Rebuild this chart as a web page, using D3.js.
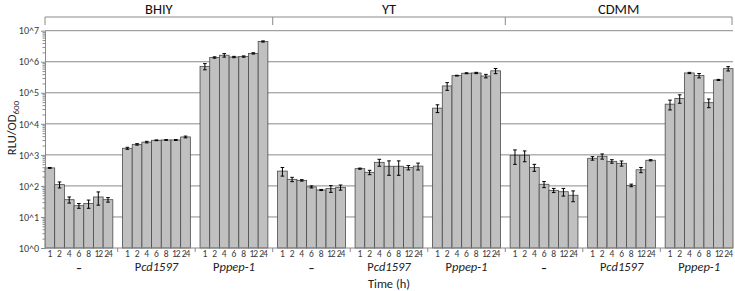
<!DOCTYPE html>
<html>
<head>
<meta charset="utf-8">
<script src="https://cdn.jsdelivr.net/npm/d3@7"></script>
<style>
  body { margin: 0; background: #fff; }
  svg { display: block; font-family: Carlito, Lato, "Open Sans", sans-serif; }
</style>
</head>
<body>
<div class="canvas"></div>
<script>
const media = ["BHIY", "YT", "CDMM"];
const constructs = ["none", "Pcd1597", "Pppep-1"];
const times = ["1", "2", "4", "6", "8", "12", "24"];
const yTickLabels = ["10^0", "10^1", "10^2", "10^3", "10^4", "10^5", "10^6", "10^7"];

// mean RLU/OD600, one row per construct (none, Pcd1597, Pppep-1)
const bhiyMeans = [
  [380, 110, 36, 23, 27, 44, 36],
  [1630, 2180, 2580, 2950, 3020, 3020, 3780],
  [710000, 1370000, 1620000, 1420000, 1470000, 1860000, 4500000],
];
const bhiySd = [
  [12, 24, 8, 4, 8, 20, 6],
  [120, 120, 150, 80, 80, 100, 250],
  [160000, 70000, 210000, 70000, 70000, 90000, 200000],
];
const ytMeans = [
  [300, 163, 151, 93, 74, 82, 90],
  [360, 274, 575, 430, 430, 390, 435],
  [32000, 166000, 357000, 426000, 435000, 347000, 510000],
];
const ytSd = [
  [93, 26, 8, 7, 3, 20, 17],
  [15, 44, 144, 210, 210, 62, 109],
  [9000, 46000, 10000, 15000, 20000, 45000, 97000],
];
const cdmmMeans = [
  [970, 970, 395, 113, 72, 65, 50],
  [775, 900, 620, 535, 104, 330, 670],
  [43000, 66000, 435000, 360000, 48000, 260000, 600000],
];
const cdmmSd = [
  [475, 370, 100, 25, 11, 18, 19],
  [100, 170, 80, 100, 10, 63, 30],
  [15000, 20000, 20000, 58000, 15000, 10000, 96000],
];

const allMeans = [bhiyMeans, ytMeans, cdmmMeans];
const allSd = [bhiySd, ytSd, cdmmSd];

const width = 735;
const height = 291;
const plotLeft = 45, plotRight = 733, plotTop = 30.7, plotBottom = 248;

const groups = [];
media.forEach((m, mi) => {
  constructs.forEach((c, ci) => {
    groups.push({ key: m + "|" + c, medium: m, construct: c, mi, ci });
  });
});

const bars = [];
groups.forEach((g) => {
  times.forEach((t, ti) => {
    bars.push({
      group: g.key,
      time: t,
      value: allMeans[g.mi][g.ci][ti],
      sd: allSd[g.mi][g.ci][ti],
    });
  });
});

const x0 = d3.scaleBand()
  .domain(groups.map((g) => g.key))
  .range([plotLeft, plotRight])
  .paddingInner(1 / 8)
  .paddingOuter(0);

const x1 = d3.scaleBand().domain(times).range([0, x0.bandwidth()]).padding(0);

const y = d3.scaleLog().domain([1, 1e7]).range([plotBottom, plotTop]);

const svg = d3.select(".canvas").append("svg")
  .attr("width", width)
  .attr("height", height);

const gridGrey = "#8a8a8a";
const textGrey = "#3a3a3a";

// gridlines
const decades = d3.range(0, 8).map((e) => Math.pow(10, e));
svg.append("g")
  .selectAll("line")
  .data(decades.slice(1))
  .join("line")
  .attr("x1", plotLeft)
  .attr("x2", plotRight)
  .attr("y1", (d) => y(d))
  .attr("y2", (d) => y(d))
  .attr("stroke", gridGrey)
  .attr("stroke-width", 1);

// bars
const chart = svg.append("g");
chart.selectAll("rect")
  .data(bars)
  .join("rect")
  .attr("x", (d) => x0(d.group) + x1(d.time))
  .attr("y", (d) => y(d.value))
  .attr("width", x1.bandwidth())
  .attr("height", (d) => y(1) - y(d.value))
  .attr("fill", "#c0c0c0")
  .attr("stroke", "#4a4a4a")
  .attr("stroke-width", 0.8);

// error bars
const err = chart.append("g").attr("stroke", "#000").attr("stroke-width", 1);
const cx = (d) => x0(d.group) + x1(d.time) + x1.bandwidth() / 2;
const hiY = (d) => y(d.value + d.sd);
const loY = (d) => y(Math.max(d.value - d.sd, d.value * 0.05));
err.selectAll("line.v").data(bars).join("line")
  .attr("class", "v")
  .attr("x1", cx).attr("x2", cx)
  .attr("y1", hiY).attr("y2", loY);
err.selectAll("line.t").data(bars).join("line")
  .attr("class", "t")
  .attr("x1", (d) => cx(d) - 1.8).attr("x2", (d) => cx(d) + 1.8)
  .attr("y1", hiY).attr("y2", hiY);
err.selectAll("line.b").data(bars).join("line")
  .attr("class", "b")
  .attr("x1", (d) => cx(d) - 1.8).attr("x2", (d) => cx(d) + 1.8)
  .attr("y1", loY).attr("y2", loY);

// y axis, major and minor ticks
const minor = [];
decades.slice(0, 7).forEach((d) => {
  for (let k = 2; k <= 9; k++) minor.push(d * k);
});

const yMinor = svg.append("g")
  .attr("transform", `translate(${plotLeft},0)`)
  .call(d3.axisLeft(y).tickValues(minor).tickSize(2.5).tickFormat(""));
yMinor.select(".domain").remove();
yMinor.selectAll("line").attr("stroke", gridGrey);

const yAxis = svg.append("g")
  .attr("transform", `translate(${plotLeft},0)`)
  .call(d3.axisLeft(y)
    .tickValues(decades)
    .tickSize(4)
    .tickSizeOuter(0)
    .tickFormat((d, i) => yTickLabels[i]));
yAxis.select(".domain").attr("stroke", gridGrey);
yAxis.selectAll(".tick line").attr("stroke", gridGrey);
yAxis.selectAll("text")
  .attr("fill", textGrey)
  .attr("font-size", 10)
  .attr("font-family", "Carlito, Lato, sans-serif")
  .attr("x", -6);

// x axis baseline and group separator ticks
svg.append("line")
  .attr("x1", plotLeft).attr("x2", plotRight)
  .attr("y1", plotBottom).attr("y2", plotBottom)
  .attr("stroke", gridGrey);

const step = x0.step();
const gap = step - x0.bandwidth();
const seps = d3.range(1, groups.length).map((i) => x0(groups[i].key) - gap / 2);
svg.append("g").selectAll("line")
  .data(seps)
  .join("line")
  .attr("x1", (d) => d).attr("x2", (d) => d)
  .attr("y1", plotBottom).attr("y2", plotBottom + 4)
  .attr("stroke", gridGrey);

// time labels
svg.append("g").selectAll("text")
  .data(bars)
  .join("text")
  .attr("x", cx)
  .attr("y", 256.5)
  .attr("text-anchor", "middle")
  .attr("font-size", 9.5)
  .attr("letter-spacing", (d) => (d.time.length > 1 ? -1 : 0))
  .attr("fill", textGrey)
  .text((d) => d.time);

// construct labels
const gl = svg.append("g").selectAll("text")
  .data(groups)
  .join("text")
  .attr("x", (d) => x0(d.key) + x0.bandwidth() / 2)
  .attr("y", 271)
  .attr("text-anchor", "middle")
  .attr("font-size", 12.5)
  .attr("fill", "#222");
gl.each(function (d) {
  const t = d3.select(this);
  if (d.construct === "none") {
    t.text("–").attr("font-weight", "bold").attr("font-size", 12).attr("y", 272);
  } else {
    t.append("tspan").text("P");
    t.append("tspan").attr("font-style", "italic").text(d.construct.slice(1));
  }
});

// medium brackets
const bracketY = 17;
const bracketX = [0, 3, 6].map((i) => x0(groups[i].key) - (i === 0 ? 0 : gap / 2));
bracketX.push(plotRight - 1);
svg.append("line")
  .attr("x1", bracketX[0]).attr("x2", bracketX[3])
  .attr("y1", bracketY).attr("y2", bracketY)
  .attr("stroke", gridGrey);
svg.append("g").selectAll("line")
  .data(bracketX)
  .join("line")
  .attr("x1", (d) => d).attr("x2", (d) => d)
  .attr("y1", bracketY).attr("y2", bracketY + 8)
  .attr("stroke", gridGrey);
svg.append("g").selectAll("text")
  .data(media)
  .join("text")
  .attr("x", (d, i) => (bracketX[i] + bracketX[i + 1]) / 2)
  .attr("y", 14)
  .attr("text-anchor", "middle")
  .attr("font-size", 14.5)
  .attr("fill", "#111")
  .text((d) => d);

// axis titles
const yl = svg.append("text")
  .attr("transform", "translate(16,128) rotate(-90)")
  .attr("text-anchor", "middle")
  .attr("font-size", 12.5)
  .attr("fill", "#222");
yl.append("tspan").text("RLU/OD");
yl.append("tspan").attr("font-size", 9).attr("dy", 3).text("600");

svg.append("text")
  .attr("x", (plotLeft + plotRight) / 2)
  .attr("y", 288)
  .attr("text-anchor", "middle")
  .attr("font-size", 12.5)
  .attr("fill", "#222")
  .text("Time (h)");
</script>
</body>
</html>
